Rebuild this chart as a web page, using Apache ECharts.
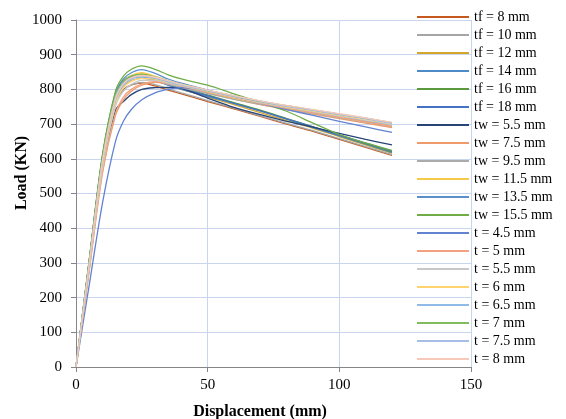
<!DOCTYPE html>
<html>
<head>
<meta charset="utf-8">
<script src="https://cdn.jsdelivr.net/npm/echarts@6/dist/echarts.min.js"></script>
<style>
html,body{margin:0;padding:0;background:#fff;}
#c{width:566px;height:419px;}
</style>
</head>
<body>
<div id="c"></div>
<script>
// Displacement sample points (mm)
var displacement = [0, 5, 10, 15, 18, 21, 25, 30, 35, 40, 50, 60, 70, 80, 90, 100, 110, 120];

// Series names
var seriesNames = [
  "tf = 8 mm", "tf = 10 mm", "tf = 12 mm", "tf = 14 mm", "tf = 16 mm", "tf = 18 mm",
  "tw = 5.5 mm", "tw = 7.5 mm", "tw = 9.5 mm", "tw = 11.5 mm", "tw = 13.5 mm", "tw = 15.5 mm",
  "t = 4.5 mm", "t = 5 mm", "t = 5.5 mm", "t = 6 mm", "t = 6.5 mm", "t = 7 mm", "t = 7.5 mm", "t = 8 mm"
];

// Load values (KN)
var tf8   = [0, 295, 590, 770, 800, 813, 818, 810, 798, 787, 765, 744, 722, 700, 679, 656, 633, 610];
var tf10  = [0, 290, 585, 765, 797, 812, 820, 814, 802, 790, 768, 746, 724, 702, 681, 658, 635, 612];
var tf12  = [0, 300, 600, 785, 818, 832, 838, 828, 812, 800, 778, 756, 733, 710, 688, 664, 640, 616];
var tf14  = [0, 302, 600, 785, 820, 834, 836, 826, 812, 800, 780, 760, 738, 714, 690, 666, 642, 618];
var tf16  = [0, 305, 605, 790, 825, 840, 845, 835, 820, 806, 784, 762, 740, 716, 692, 668, 644, 620];
var tf18  = [0, 303, 602, 788, 822, 837, 841, 831, 816, 803, 782, 760, 738, 715, 692, 668, 645, 622];
var tw55  = [0, 285, 570, 740, 765, 785, 800, 805, 806, 803, 775, 748, 727, 708, 691, 673, 656, 640];
var tw75  = [0, 280, 560, 725, 770, 795, 812, 820, 815, 808, 790, 772, 756, 742, 729, 716, 703, 690];
var tw95  = [0, 295, 590, 772, 810, 826, 832, 826, 815, 805, 788, 771, 757, 744, 731, 718, 706, 693];
var tw115 = [0, 300, 598, 782, 822, 840, 848, 838, 824, 812, 793, 775, 760, 746, 733, 720, 708, 695];
var tw135 = [0, 303, 603, 788, 830, 848, 857, 846, 830, 818, 798, 778, 762, 748, 735, 722, 710, 697];
var tw155 = [0, 308, 610, 795, 838, 858, 868, 858, 842, 830, 812, 787, 763, 737, 703, 670, 646, 624];
var t45   = [0, 235, 470, 650, 708, 742, 770, 790, 800, 805, 795, 778, 760, 742, 725, 708, 692, 676];
var t5    = [0, 275, 555, 730, 778, 800, 815, 822, 818, 810, 793, 776, 760, 746, 733, 720, 707, 694];
var t55   = [0, 285, 570, 752, 795, 815, 826, 826, 818, 810, 794, 778, 762, 748, 736, 723, 711, 698];
var t6    = [0, 290, 580, 762, 805, 823, 832, 830, 821, 812, 795, 779, 764, 750, 738, 726, 714, 701];
var t65   = [0, 295, 588, 770, 812, 830, 837, 832, 822, 813, 796, 780, 765, 752, 740, 728, 716, 703];
var t7    = [0, 300, 598, 782, 822, 838, 843, 836, 825, 815, 797, 781, 766, 753, 741, 729, 717, 704];
var t75   = [0, 298, 592, 776, 818, 834, 839, 834, 824, 814, 797, 781, 766, 752, 740, 728, 716, 702];
var t8    = [0, 296, 590, 774, 816, 833, 840, 835, 825, 815, 798, 782, 767, 754, 742, 730, 718, 705];

var seriesValues = [tf8, tf10, tf12, tf14, tf16, tf18, tw55, tw75, tw95, tw115, tw135, tw155,
                    t45, t5, t55, t6, t65, t7, t75, t8];

var colors = [
  "#C65A1E", "#A5A5A5", "#D4A72C", "#4E8AC8", "#5B9A3C", "#4472C4",
  "#264478", "#EE9A6A", "#ABABAB", "#F7C948", "#5A8FCC", "#70AD47",
  "#6283D2", "#F3A07F", "#C8C8C8", "#FFD36E", "#90BBE6", "#80BB5E", "#A6BDE8", "#F6C9B8"
];

var xTicks = [0, 50, 100, 150];
var yTicks = [0, 100, 200, 300, 400, 500, 600, 700, 800, 900, 1000];

var series = seriesNames.map(function (name, i) {
  return {
    name: name,
    type: 'line',
    smooth: 0.3,
    symbol: 'none',
    showSymbol: false,
    data: displacement.map(function (x, j) { return [x, seriesValues[i][j]]; }),
    lineStyle: { width: 1.3, color: colors[i] },
    itemStyle: { color: colors[i] }
  };
});

var chart = echarts.init(document.getElementById('c'), null, { renderer: 'canvas' });
chart.setOption({
  animation: false,
  backgroundColor: '#ffffff',
  grid: { left: 76, right: 95, top: 20, bottom: 52, containLabel: false },
  xAxis: {
    type: 'value',
    min: xTicks[0], max: xTicks[xTicks.length - 1], interval: 50,
    axisLine: { show: true, onZero: false, lineStyle: { color: '#868686', width: 1 } },
    axisTick: { show: true, inside: false, length: 5, lineStyle: { color: '#868686' } },
    axisLabel: { margin: 11, color: '#000', fontFamily: 'Liberation Serif', fontSize: 15,
                 formatter: function (v) { return String(v); } },
    splitLine: { show: true, lineStyle: { color: '#C9D5EE', width: 1 } }
  },
  yAxis: {
    type: 'value',
    min: yTicks[0], max: yTicks[yTicks.length - 1], interval: 100,
    axisLine: { show: true, lineStyle: { color: '#868686', width: 1 } },
    axisTick: { show: true, inside: false, length: 5, lineStyle: { color: '#868686' } },
    axisLabel: { margin: 14, color: '#000', fontFamily: 'Liberation Serif', fontSize: 15,
                 formatter: function (v) { return String(v); } },
    splitLine: { show: true, lineStyle: { color: '#C9D5EE', width: 1 } }
  },
  legend: {
    orient: 'vertical',
    left: 417,
    top: 9,
    icon: 'rect',
    itemWidth: 52,
    itemHeight: 2,
    itemGap: 2,
    padding: 0,
    textStyle: { fontFamily: 'Liberation Serif', fontSize: 14, color: '#000', lineHeight: 16 },
    data: seriesNames
  },
  graphic: [
    {
      type: 'text',
      x: 22, y: 173,
      rotation: Math.PI / 2,
      style: {
        text: 'Load (KN)',
        font: 'bold 16px "Liberation Serif"',
        fill: '#000',
        textAlign: 'center',
        textVerticalAlign: 'middle'
      }
    },
    {
      type: 'text',
      x: 260, y: 412,
      style: {
        text: 'Displacement (mm)',
        font: 'bold 16px "Liberation Serif"',
        fill: '#000',
        textAlign: 'center',
        textVerticalAlign: 'middle'
      }
    }
  ],
  series: series
});
</script>
</body>
</html>
